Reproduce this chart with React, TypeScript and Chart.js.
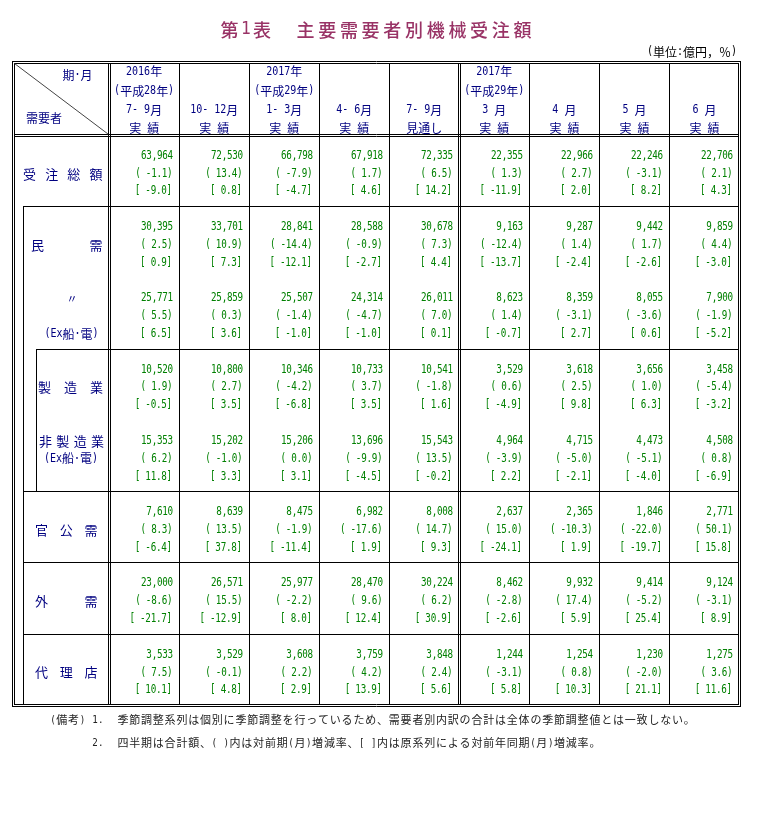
import React, { useEffect, useRef } from "react";
import { Chart, registerables } from "chart.js";

Chart.register(...registerables);

// ---------- text ----------
const TITLE = "第1表  主要需要者別機械受注額";
const UNIT_NOTE = "(単位:億円，％)";
const NOTE_HEAD = "(備考)";
const NOTE_NUMS = ["1.", "2."];
const NOTES = [
  "季節調整系列は個別に季節調整を行っているため、需要者別内訳の合計は全体の季節調整値とは一致しない。",
  "四半期は合計額、( )内は対前期(月)増減率、[ ]内は原系列による対前年同期(月)増減率。",
];

// ---------- column headers ----------
const yearLabels = ["2016年", "", "2017年", "", "", "2017年", "", "", ""];
const eraLabels = ["(平成28年)", "", "(平成29年)", "", "", "(平成29年)", "", "", ""];
const periodLabels = ["7- 9月", "10- 12月", "1- 3月", "4- 6月", "7- 9月", "3 月", "4 月", "5 月", "6 月"];
const statusLabels = ["実 績", "実 績", "実 績", "実 績", "見通し", "実 績", "実 績", "実 績", "実 績"];

// ---------- demanders ----------
const demanders = ["受注総額", "民需", "〃(Ex船･電)", "製造業", "非製造業(Ex船･電)", "官公需", "外需", "代理店"];

const totalAmount = [63964, 72530, 66798, 67918, 72335, 22355, 22966, 22246, 22706];
const totalQoq = [-1.1, 13.4, -7.9, 1.7, 6.5, 1.3, 2.7, -3.1, 2.1];
const totalYoy = [-9.0, 0.8, -4.7, 4.6, 14.2, -11.9, 2.0, 8.2, 4.3];

const privateAmount = [30395, 33701, 28841, 28588, 30678, 9163, 9287, 9442, 9859];
const privateQoq = [2.5, 10.9, -14.4, -0.9, 7.3, -12.4, 1.4, 1.7, 4.4];
const privateYoy = [0.9, 7.3, -12.1, -2.7, 4.4, -13.7, -2.4, -2.6, -3.0];

const privateExAmount = [25771, 25859, 25507, 24314, 26011, 8623, 8359, 8055, 7900];
const privateExQoq = [5.5, 0.3, -1.4, -4.7, 7.0, 1.4, -3.1, -3.6, -1.9];
const privateExYoy = [6.5, 3.6, -1.0, -1.0, 0.1, -0.7, 2.7, 0.6, -5.2];

const mfgAmount = [10520, 10800, 10346, 10733, 10541, 3529, 3618, 3656, 3458];
const mfgQoq = [1.9, 2.7, -4.2, 3.7, -1.8, 0.6, 2.5, 1.0, -5.4];
const mfgYoy = [-0.5, 3.5, -6.8, 3.5, 1.6, -4.9, 9.8, 6.3, -3.2];

const nonMfgAmount = [15353, 15202, 15206, 13696, 15543, 4964, 4715, 4473, 4508];
const nonMfgQoq = [6.2, -1.0, 0.0, -9.9, 13.5, -3.9, -5.0, -5.1, 0.8];
const nonMfgYoy = [11.8, 3.3, 3.1, -4.5, -0.2, 2.2, -2.1, -4.0, -6.9];

const publicAmount = [7610, 8639, 8475, 6982, 8008, 2637, 2365, 1846, 2771];
const publicQoq = [8.3, 13.5, -1.9, -17.6, 14.7, 15.0, -10.3, -22.0, 50.1];
const publicYoy = [-6.4, 37.8, -11.4, 1.9, 9.3, -24.1, 1.9, -19.7, 15.8];

const foreignAmount = [23000, 26571, 25977, 28470, 30224, 8462, 9932, 9414, 9124];
const foreignQoq = [-8.6, 15.5, -2.2, 9.6, 6.2, -2.8, 17.4, -5.2, -3.1];
const foreignYoy = [-21.7, -12.9, 8.0, 12.4, 30.9, -2.6, 5.9, 25.4, 8.9];

const agencyAmount = [3533, 3529, 3608, 3759, 3848, 1244, 1254, 1230, 1275];
const agencyQoq = [7.5, -0.1, 2.2, 4.2, 2.4, -3.1, 0.8, -2.0, 3.6];
const agencyYoy = [10.1, 4.8, 2.9, 13.9, 5.6, 5.8, 10.3, 21.1, 11.6];

const series = [
  { amount: totalAmount, qoq: totalQoq, yoy: totalYoy },
  { amount: privateAmount, qoq: privateQoq, yoy: privateYoy },
  { amount: privateExAmount, qoq: privateExQoq, yoy: privateExYoy },
  { amount: mfgAmount, qoq: mfgQoq, yoy: mfgYoy },
  { amount: nonMfgAmount, qoq: nonMfgQoq, yoy: nonMfgYoy },
  { amount: publicAmount, qoq: publicQoq, yoy: publicYoy },
  { amount: foreignAmount, qoq: foreignQoq, yoy: foreignYoy },
  { amount: agencyAmount, qoq: agencyQoq, yoy: agencyYoy },
];

// ---------- styles ----------
const NAVY = "#000080";
const GREEN = "#008000";
const TITLE_COLOR = "#993366";
const CJK = '"Noto Sans CJK JP", sans-serif';
const MONO = '"DejaVu Sans Mono", "Noto Sans CJK JP", monospace';

const isHalf = (ch: string) => /[\x20-\x7e\uff61-\uff9f]/.test(ch);

function drawMixed(
  ctx: CanvasRenderingContext2D,
  text: string,
  x: number,
  y: number,
  size: number,
  cell: number,
  align: "left" | "right" | "center",
  color: string,
  halfScale = 0.88,
  weight = "normal"
) {
  const chars = [...text];
  const widths = chars.map((ch) => (isHalf(ch) ? cell / 2 : cell));
  const total = widths.reduce((a, b) => a + b, 0);
  let pos = align === "left" ? x : align === "right" ? x - total : x - total / 2;
  ctx.fillStyle = color;
  ctx.textBaseline = "middle";
  ctx.textAlign = "center";
  chars.forEach((ch, i) => {
    const w = widths[i];
    const cx = pos + w / 2;
    if (ch !== " " && ch !== "　") {
      if (isHalf(ch)) {
        ctx.font = `${weight} ${size * 0.95}px ${MONO}`;
        ctx.save();
        ctx.translate(cx, y);
        ctx.scale(halfScale, 1);
        ctx.fillText(ch, 0, 0);
        ctx.restore();
      } else {
        ctx.font = `${weight} ${size}px ${CJK}`;
        ctx.fillText(ch, cx, y);
      }
    }
    pos += w;
  });
}

function drawJustified(
  ctx: CanvasRenderingContext2D,
  text: string,
  left: number,
  right: number,
  y: number,
  size: number,
  color: string
) {
  const chars = [...text];
  ctx.fillStyle = color;
  ctx.font = `${size}px ${CJK}`;
  ctx.textBaseline = "middle";
  ctx.textAlign = "center";
  const n = chars.length;
  const first = left + size / 2;
  const last = right - size / 2;
  chars.forEach((ch, i) => {
    const cx = n === 1 ? (first + last) / 2 : first + ((last - first) * i) / (n - 1);
    ctx.fillText(ch, cx, y);
  });
}

const fmtAmount = (v: number) => v.toLocaleString("en-US");
const fmtPct = (v: number) => v.toFixed(1);

const tablePlugin = {
  id: "tablePlugin",
  afterDraw(chart: any) {
    const ctx: CanvasRenderingContext2D = chart.ctx;
    const { left: L, right: R, top: T, bottom: B } = chart.chartArea;
    const xs = chart.scales.x;
    const ys = chart.scales.y;
    const X = (v: number) => xs.getPixelForValue(v);
    const Y = (v: number) => ys.getPixelForValue(v);
    const unit = Math.abs(Y(1) - Y(0));
    const f = Math.floor;

    ctx.save();
    ctx.strokeStyle = "#000";
    ctx.lineWidth = 1;
    const h = (x1: number, x2: number, y: number) => {
      ctx.beginPath();
      ctx.moveTo(f(x1), f(y) + 0.5);
      ctx.lineTo(f(x2) + 1, f(y) + 0.5);
      ctx.stroke();
    };
    const v = (x: number, y1: number, y2: number) => {
      ctx.beginPath();
      ctx.moveTo(f(x) + 0.5, f(y1));
      ctx.lineTo(f(x) + 0.5, f(y2) + 1);
      ctx.stroke();
    };

    const oT1 = f(T) - 3, oT2 = f(T) - 1, oB1 = f(B) - 1, oB2 = f(B) + 1;
    const oL1 = f(L) - 1, oL2 = f(L) + 1, oR1 = f(R) - 1, oR2 = f(R) + 1;

    // outer double frame
    h(oL1, oR2, oT1); h(oL1, oR2, oB2); v(oL1, oT1, oB2); v(oR2, oT1, oB2);
    h(oL2, oR1, oT2); h(oL2, oR1, oB1); v(oL2, oT2, oB1); v(oR1, oT2, oB1);

    // header bottom double
    const hb = Y(4);
    h(oL2, oR1, f(hb) - 1); h(oL2, oR1, f(hb) + 1);

    // row-header right double, middle double
    for (const c of [0, 5]) {
      const xx = X(c);
      v(f(xx) - 1, oT2, oB1); v(f(xx) + 1, oT2, oB1);
    }
    for (const c of [1, 2, 3, 4, 6, 7, 8]) v(X(c), oT2, oB1);

    // nested blocks
    const ix1 = f(L) + 10;
    const ix2 = f(L) + 23;
    h(ix1, oR1, Y(8));
    h(ix2, oR1, Y(16));
    h(ix1, oR1, Y(24));
    h(ix1, oR1, Y(28));
    h(ix1, oR1, Y(32));
    v(ix1, Y(8), oB1);
    v(ix2, Y(16), Y(24));

    // diagonal
    ctx.strokeStyle = "#444";
    ctx.beginPath();
    ctx.moveTo(oL2 + 0.5, oT2 + 0.5);
    ctx.lineTo(f(X(0)) - 1, f(hb) - 1);
    ctx.stroke();

    // title + unit
    drawMixed(ctx, TITLE, (oL1 + oR2) / 2, 30, 18, 21.7, "center", TITLE_COLOR, 0.95, "500");
    drawMixed(ctx, UNIT_NOTE, oR2 - 3, 52, 12, 12, "right", "#000");

    // column headers
    for (let c = 0; c < 9; c++) {
      const cx = X(c + 0.5);
      drawMixed(ctx, yearLabels[c], cx, Y(0.43), 12, 12, "center", NAVY);
      drawMixed(ctx, eraLabels[c], cx, Y(1.52), 12, 12, "center", NAVY);
      drawMixed(ctx, periodLabels[c], cx, Y(2.58), 12, 12, "center", NAVY);
      drawMixed(ctx, statusLabels[c], cx, Y(3.61), 12, 12, "center", NAVY);
    }
    drawMixed(ctx, "期･月", L + 79, Y(0.62), 12, 12, "right", NAVY);
    drawMixed(ctx, "需要者", L + 12.5, Y(3.03), 12, 12, "left", NAVY);

    // row labels
    const off = 2.7;
    const rowY = (i: number, d: number) => Y(6 + 4 * i + d) + off;
    drawJustified(ctx, "受注総額", L + 9.5, L + 89, rowY(0, 0), 13, NAVY);
    drawJustified(ctx, "民需", L + 17.5, L + 89, rowY(1, 0), 13, NAVY);
    drawMixed(ctx, "〃", L + 58.5, rowY(2, -1), 11, 12, "center", NAVY);
    drawMixed(ctx, "(Ex船･電)", L + 58, rowY(2, 1), 12, 12, "center", NAVY);
    drawJustified(ctx, "製造業", L + 24.5, L + 89.5, rowY(3, 0), 13, NAVY);
    drawJustified(ctx, "非製造業", L + 25.5, L + 90.5, rowY(4, -1), 13, NAVY);
    drawMixed(ctx, "(Ex船･電)", L + 57.5, rowY(4, 0), 12, 12, "center", NAVY);
    drawJustified(ctx, "官公需", L + 21.5, L + 84, rowY(5, 0), 13, NAVY);
    drawJustified(ctx, "外需", L + 21.5, L + 84, rowY(6, 0), 13, NAVY);
    drawJustified(ctx, "代理店", L + 21.5, L + 84, rowY(7, 0), 13, NAVY);

    // values, positioned by each dataset's points
    chart.data.datasets.forEach((ds: any, i: number) => {
      const meta = chart.getDatasetMeta(i);
      const s = series[i];
      meta.data.forEach((pt: any, c: number) => {
        const rx = f(pt.x) - 6;
        drawMixed(ctx, fmtAmount(s.amount[c]), rx, pt.y - unit + off, 12.2, 10.6, "right", GREEN, 0.8);
        drawMixed(ctx, "( " + fmtPct(s.qoq[c]) + ")", rx - 0.5, pt.y + off, 12.2, 10.6, "right", GREEN, 0.8);
        drawMixed(ctx, "[ " + fmtPct(s.yoy[c]) + "]", rx - 1, pt.y + unit + off, 12.2, 10.6, "right", GREEN, 0.8);
      });
    });

    // notes
    drawMixed(ctx, NOTE_HEAD, 50, 720, 11, 11.8, "left", "#222");
    NOTES.forEach((t, k) => {
      drawMixed(ctx, NOTE_NUMS[k], 92, 720 + 23 * k, 11, 11.8, "left", "#222");
      drawMixed(ctx, t, 117, 720 + 23 * k, 11, 11.8, "left", "#222");
    });

    ctx.restore();
  },
};

export default function App() {
  const ref = useRef<HTMLCanvasElement>(null);
  useEffect(() => {
    const canvas = ref.current;
    if (!canvas) return;
    const chart = new Chart(canvas, {
      type: "scatter",
      data: {
        datasets: series.map((s, i) => ({
          label: demanders[i],
          data: s.amount.map((_, c) => ({ x: c + 1, y: 6 + 4 * i })),
          pointRadius: 0,
          showLine: false,
        })),
      },
      options: {
        responsive: false,
        animation: false,
        events: [],
        layout: { padding: { left: 13.5, right: 782 - 739.5, top: 64, bottom: 820 - 705.5 } },
        scales: {
          x: { type: "linear", min: -1.365, max: 9, display: false },
          y: { type: "linear", min: 0, max: 36, reverse: true, display: false },
        },
        plugins: { legend: { display: false }, tooltip: { enabled: false }, title: { display: false } },
      },
      plugins: [tablePlugin],
    } as any);
    return () => chart.destroy();
  }, []);
  return (
    <div style={{ position: "absolute", left: 0, top: 0, width: 782, height: 820, background: "#fff" }}>
      <canvas ref={ref} width={782} height={820} style={{ display: "block" }} />
    </div>
  );
}
